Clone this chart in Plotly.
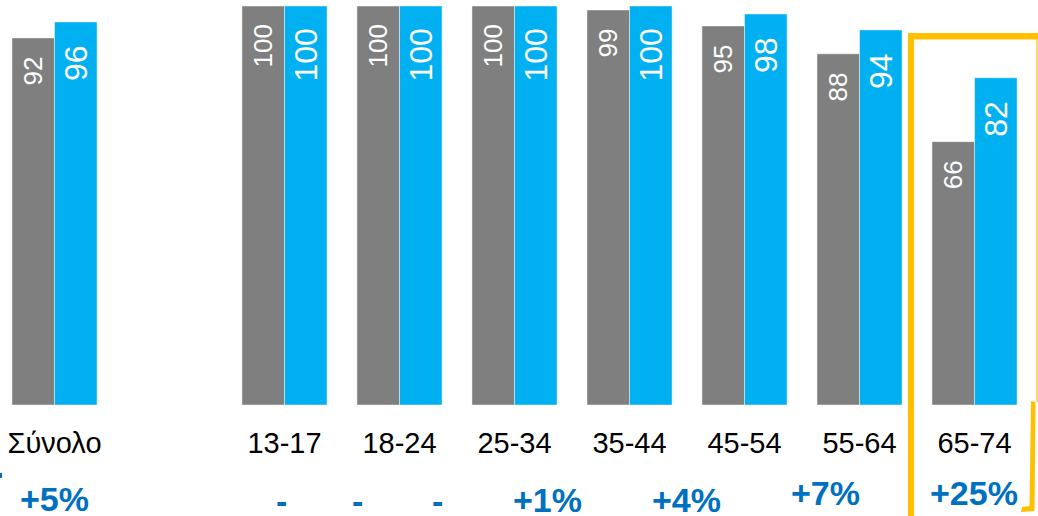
import plotly.graph_objects as go

# ---- data ----
categories = ["Σύνολο", "13-17", "18-24", "25-34", "35-44", "45-54", "55-64", "65-74"]
series_gray = [92, 100, 100, 100, 99, 95, 88, 66]
series_blue = [96, 100, 100, 100, 100, 98, 94, 82]
change_labels = ["+5%", "-", "-", "-", "+1%", "+4%", "+7%", "+25%"]

# ---- layout helpers ----
W, H = 1038, 516
PLOT_BOTTOM = 405
SPACER = " "
cat_order = [categories[0], SPACER] + categories[1:]

GRAY = "#7F7F7F"
BLUE = "#00B0F0"
DARKBLUE = "#0070C0"
ORANGE = "#FFC000"
FONT = "Liberation Sans, Arial, sans-serif"


def px_x(p):
    return p / W


def px_y(p):
    return (PLOT_BOTTOM - p) / PLOT_BOTTOM


fig = go.Figure()
fig.add_trace(go.Bar(x=categories, y=series_gray, marker=dict(color=GRAY, line=dict(color="rgba(255,255,255,0.45)", width=1)), showlegend=False))
fig.add_trace(go.Bar(x=categories, y=series_blue, marker=dict(color=BLUE, line=dict(color="rgba(255,255,255,0.45)", width=1)), showlegend=False))

annotations = []
# value labels inside bars (rotated)
for c, g, b in zip(categories, series_gray, series_blue):
    annotations.append(dict(x=c, y=g, xref="x", yref="y", text=str(g), showarrow=False,
                            textangle=-90, xanchor="center", yanchor="top", xshift=-21.5, yshift=-17,
                            font=dict(family=FONT, size=26, color="white")))
    annotations.append(dict(x=c, y=b, xref="x", yref="y", text=str(b), showarrow=False,
                            textangle=-90, xanchor="center", yanchor="top", xshift=21.5, yshift=-21,
                            font=dict(family=FONT, size=32, color="white")))

# change labels under the axis (slide text boxes, offset from category centres)
change_xshift = [0, -3, -42, -77, -82, -58, -34, -1]
change_py = [499, 501, 501, 501, 500, 500, 493, 493]
for c, lab, dx, py in zip(categories, change_labels, change_xshift, change_py):
    annotations.append(dict(x=c, y=px_y(py), xref="x", yref="paper", text=lab, showarrow=False,
                            xanchor="center", yanchor="middle", xshift=dx,
                            font=dict(family=FONT, size=34, color=DARKBLUE, weight="bold")))

shapes = [
    # orange highlight frame around 65-74
    dict(type="rect", xref="paper", yref="paper", x0=px_x(908), x1=px_x(914), y0=px_y(33), y1=px_y(520),
         fillcolor=ORANGE, line=dict(width=0), layer="above"),
    dict(type="rect", xref="paper", yref="paper", x0=px_x(908), x1=px_x(1040), y0=px_y(33), y1=px_y(39.5),
         fillcolor=ORANGE, line=dict(width=0), layer="above"),
    dict(type="line", xref="paper", yref="paper", x0=px_x(1037), x1=px_x(1037), y0=px_y(39), y1=px_y(402),
         line=dict(color=ORANGE, width=1.2), layer="above"),
    dict(type="path", xref="paper", yref="paper",
         path=("M {} {} L {} {} L {} {} L {} {} L {} {} L {} {} Z").format(
             px_x(1031), px_y(401), px_x(1035.5), px_y(402), px_x(1034.5), px_y(511),
             px_x(1021), px_y(512), px_x(1022), px_y(507), px_x(1029.5), px_y(506)),
         fillcolor=ORANGE, line=dict(width=0), layer="above"),
    # small blue fragment at far left edge
    dict(type="rect", xref="paper", yref="paper", x0=px_x(0), x1=px_x(2), y0=px_y(473), y1=px_y(478),
         fillcolor=DARKBLUE, line=dict(width=0), layer="above"),
]

fig.update_layout(
    width=W, height=H,
    margin=dict(l=0, r=0, t=0, b=H - PLOT_BOTTOM, pad=0),
    paper_bgcolor="white", plot_bgcolor="white",
    barmode="group", bargap=0.26, bargroupgap=0,
    annotations=annotations, shapes=shapes,
    xaxis=dict(type="category", categoryorder="array", categoryarray=cat_order,
               range=[-0.474, 8.552], showgrid=False, showline=False, zeroline=False,
               ticks="", tickfont=dict(family=FONT, size=29, color="black"),
               ticklabelstandoff=18, fixedrange=True),
    yaxis=dict(range=[0, 101.5], visible=False, fixedrange=True),
    font=dict(family=FONT),
)

fig.write_html("out.html", config={"displayModeBar": False},
               post_script="document.body.style.margin='0px';document.body.style.overflow='hidden';")
